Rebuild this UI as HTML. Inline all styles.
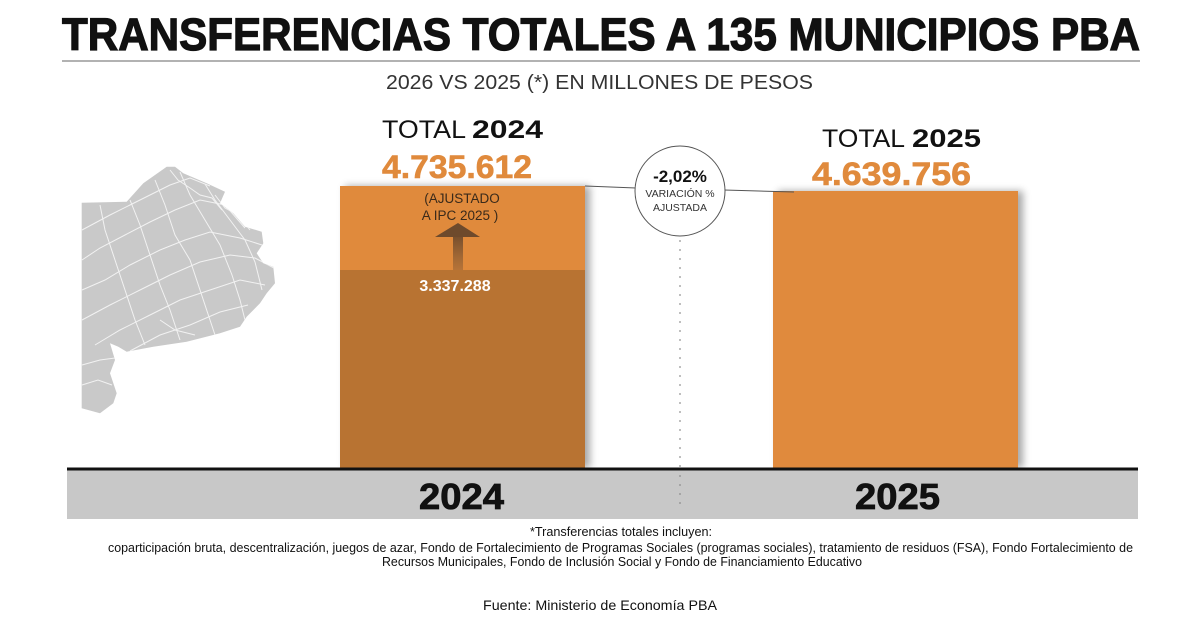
<!DOCTYPE html>
<html><head><meta charset="utf-8"><style>
html,body{margin:0;padding:0;background:#fff;}
svg{display:block;}
text{font-family:"Liberation Sans",sans-serif;}
</style></head><body>
<svg width="1200" height="630" viewBox="0 0 1200 630" xmlns="http://www.w3.org/2000/svg">
<defs>
<filter id="sh" x="-10%" y="-10%" width="130%" height="130%">
<feGaussianBlur in="SourceAlpha" stdDeviation="4"/>
<feOffset dx="5" dy="0"/>
<feComponentTransfer><feFuncA type="linear" slope="0.35"/></feComponentTransfer>
<feMerge><feMergeNode/><feMergeNode in="SourceGraphic"/></feMerge>
</filter>
<linearGradient id="ar" x1="0" y1="0" x2="0" y2="1">
<stop offset="0" stop-color="#6e4a2c"/>
<stop offset="1" stop-color="#9a6435" stop-opacity="0.6"/>
</linearGradient>
<clipPath id="mapclip"><path id="mp" d="M81.7,202.7 L126.7,201.7 L143.3,183.3 L166.7,166.7 L175,166.7 L183.3,173.3 L206.7,183.3 L225,191.7 L220,203.3 L233.3,213.3 L245,226.7 L261.7,231.7 L263.3,243.3 L256.7,253.3 L263.3,263.3 L273.3,266.7 L275,283.3 L266.7,293.3 L260,303.3 L246.7,316.7 L240,326.7 L220,333.3 L186.7,341.7 L153.3,346.7 L126.7,351.7 L118.3,346.7 L110,343.3 L115,360 L110,373.3 L116.7,393.3 L113.3,403.3 L100,413.3 L81.7,408.3 Z"/></clipPath>
</defs>

<!-- Title -->
<text x="62" y="50" font-size="45" font-weight="bold" fill="#111" stroke="#111" stroke-width="1.2" textLength="1078" lengthAdjust="spacingAndGlyphs">TRANSFERENCIAS TOTALES A 135 MUNICIPIOS PBA</text>
<line x1="62" y1="61" x2="1140" y2="61" stroke="#999" stroke-width="1.5"/>
<text x="386" y="89" font-size="20" fill="#333" textLength="427" lengthAdjust="spacingAndGlyphs">2026 VS 2025 (*) EN MILLONES DE PESOS</text>

<!-- Map -->
<use href="#mp" fill="#c9c9c9"/>
<g clip-path="url(#mapclip)" stroke="#f2f2f2" stroke-width="1" fill="none">
<polyline points="82,230 110,215 130,205 150,195 170,185 190,178 210,186"/>
<polyline points="82,260 100,248 125,235 150,222 175,210 200,200 225,205 245,228"/>
<polyline points="82,290 105,280 130,265 160,250 185,240 210,232 240,238 262,245"/>
<polyline points="82,320 110,305 140,290 170,275 200,262 230,255 255,258 274,268"/>
<polyline points="95,345 120,330 150,315 180,300 210,290 240,280 265,285"/>
<polyline points="130,351 160,335 190,325 220,312 248,305"/>
<polyline points="100,205 105,230 115,260 125,290 135,320 145,345"/>
<polyline points="130,200 140,225 150,255 160,285 170,310 180,340"/>
<polyline points="155,180 165,205 175,235 190,260 200,290 210,320 215,335"/>
<polyline points="180,172 190,195 205,220 220,245 232,275 240,300 245,320"/>
<polyline points="205,184 215,200 230,220 245,240 255,262 262,290"/>
<polyline points="82,365 100,360 115,358"/>
<polyline points="82,385 98,380 112,385"/>
<polyline points="170,170 178,180 190,188 200,195 212,198 222,210"/>
<polyline points="215,195 225,208 238,215 250,230"/>
<polyline points="160,320 175,330 195,335"/>
</g>

<!-- Bar 2024 -->
<g filter="url(#sh)">
<rect x="340" y="186" width="245" height="282" fill="#b87333"/>
</g>
<rect x="340" y="186" width="245" height="84" fill="#e08a3c"/>
<rect x="453" y="233" width="10" height="37" fill="url(#ar)"/>
<polygon points="435,237 458,223 480,237" fill="#6e4a2c"/>
<text x="462" y="203" font-size="13.5" fill="#3a2a1a" text-anchor="middle">(AJUSTADO</text>
<text x="460" y="220" font-size="13.5" fill="#3a2a1a" text-anchor="middle">A IPC 2025 )</text>
<text x="455" y="291" font-size="16" font-weight="bold" fill="#fff" text-anchor="middle">3.337.288</text>

<!-- Bar 2025 -->
<g filter="url(#sh)">
<rect x="773" y="191" width="245" height="277" fill="#e08a3c"/>
</g>

<!-- Labels -->
<text x="382" y="138" font-size="25" fill="#111" textLength="84" lengthAdjust="spacingAndGlyphs">TOTAL</text>
<text x="472" y="138" font-size="25" font-weight="bold" fill="#111" textLength="71" lengthAdjust="spacingAndGlyphs">2024</text>
<text x="382" y="178" font-size="32" font-weight="bold" fill="#e08a3c" stroke="#e08a3c" stroke-width="0.6" textLength="150" lengthAdjust="spacingAndGlyphs">4.735.612</text>

<text x="822" y="147" font-size="25" fill="#111" textLength="83" lengthAdjust="spacingAndGlyphs">TOTAL</text>
<text x="912" y="147" font-size="25" font-weight="bold" fill="#111" textLength="69" lengthAdjust="spacingAndGlyphs">2025</text>
<text x="812" y="185" font-size="32" font-weight="bold" fill="#e08a3c" stroke="#e08a3c" stroke-width="0.6" textLength="159" lengthAdjust="spacingAndGlyphs">4.639.756</text>

<!-- connector + circle -->
<line x1="585" y1="186" x2="636" y2="188" stroke="#555" stroke-width="1"/>
<line x1="724" y1="190" x2="794" y2="192" stroke="#555" stroke-width="1"/>
<line x1="680" y1="240" x2="680" y2="505" stroke="#aaa" stroke-width="1.5" stroke-dasharray="2,7"/>
<circle cx="680" cy="191" r="45" fill="#fff" stroke="#555" stroke-width="1"/>
<text x="680" y="182" font-size="17" font-weight="bold" fill="#111" text-anchor="middle">-2,02%</text>
<text x="680" y="197" font-size="10.5" fill="#333" text-anchor="middle">VARIACIÓN %</text>
<text x="680" y="211" font-size="10.5" fill="#333" text-anchor="middle">AJUSTADA</text>

<!-- baseline band -->
<rect x="67" y="470" width="1071" height="49" fill="#c8c8c8"/>
<line x1="67" y1="469" x2="1138" y2="469" stroke="#111" stroke-width="3"/>
<line x1="680" y1="475" x2="680" y2="505" stroke="#999" stroke-width="1.5" stroke-dasharray="2,7"/>
<text x="419" y="509" font-size="36" font-weight="bold" fill="#111" stroke="#111" stroke-width="0.8" textLength="85" lengthAdjust="spacingAndGlyphs">2024</text>
<text x="855" y="509" font-size="36" font-weight="bold" fill="#111" stroke="#111" stroke-width="0.8" textLength="85" lengthAdjust="spacingAndGlyphs">2025</text>

<!-- footnotes -->
<text x="530" y="536" font-size="12.5" fill="#111" textLength="182" lengthAdjust="spacingAndGlyphs">*Transferencias totales incluyen:</text>
<text x="108" y="552" font-size="12.5" fill="#111" textLength="1025" lengthAdjust="spacingAndGlyphs">coparticipación bruta, descentralización, juegos de azar, Fondo de Fortalecimiento de Programas Sociales (programas sociales), tratamiento de residuos (FSA), Fondo Fortalecimiento de</text>
<text x="382" y="566" font-size="12.5" fill="#111" textLength="480" lengthAdjust="spacingAndGlyphs">Recursos Municipales, Fondo de Inclusión Social y Fondo de Financiamiento Educativo</text>
<text x="483" y="610" font-size="14" fill="#111" textLength="234" lengthAdjust="spacingAndGlyphs">Fuente: Ministerio de Economía PBA</text>
</svg>
</body></html>
